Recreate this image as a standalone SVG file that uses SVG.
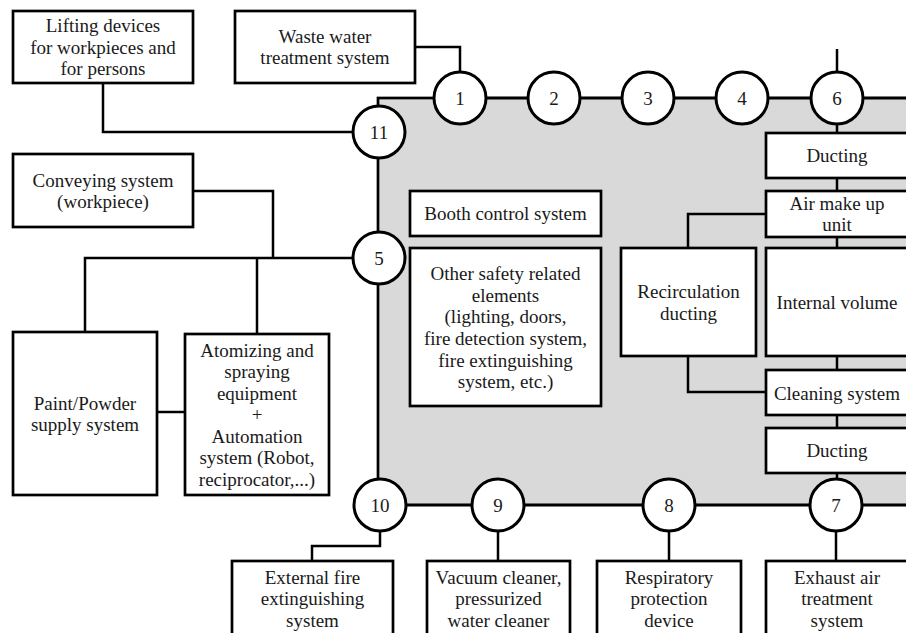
<svg xmlns="http://www.w3.org/2000/svg" width="906" height="633" viewBox="0 0 906 633">
<style>
.b{fill:#fff;stroke:#000;stroke-width:2.7}
.c{fill:#fff;stroke:#000;stroke-width:3}
.l{fill:none;stroke:#000;stroke-width:2.5}
text{font-family:"Liberation Serif","DejaVu Serif",serif;font-size:19px;fill:#1a1a1a;text-anchor:middle}
</style>
<rect x="0" y="0" width="906" height="633" fill="#fff"/>
<rect id="booth" x="378" y="98" width="540" height="407" fill="#d9d9d9" stroke="#000" stroke-width="2.7"/>
<g id="connectors" class="l">
<path class="l" d="M415,47H460V72"/>
<path class="l" d="M837,49V72"/>
<path class="l" d="M486,98H528M580,98H622M674,98H716M768,98H811M863,98H906"/>
<path class="l" d="M103,83V132H353"/>
<path class="l" d="M193,191H273V258"/>
<path class="l" d="M85,332V258H353"/>
<path class="l" d="M257,258V334"/>
<path class="l" d="M157,412H185"/>
<path class="l" d="M837,124V133M837,178V191M837,237V248M837,356V370M837,415V428M837,473V479"/>
<path class="l" d="M766,214H688V248"/>
<path class="l" d="M688,356V392H766"/>
<path class="l" d="M380,531V546H312V561"/>
<path class="l" d="M498,531V561M669,531V561M836,531V561"/>
<path class="l" d="M406,505H472M524,505H643M695,505H810M862,505H906"/>
</g>
<g id="n-lifting"><rect class="b" x="13" y="11" width="180" height="72"/><text x="103" y="32">Lifting devices</text><text x="103" y="53.5">for workpieces and</text><text x="103" y="75">for persons</text></g>
<g id="n-waste"><rect class="b" x="235" y="11" width="180" height="72"/><text x="325" y="42.5">Waste water</text><text x="325" y="64">treatment system</text></g>
<g id="n-conveying"><rect class="b" x="13" y="154" width="180" height="73"/><text x="103" y="186.5">Conveying system</text><text x="103" y="208">(workpiece)</text></g>
<g id="n-paint"><rect class="b" x="13" y="332" width="144" height="163"/><text x="85" y="409.5">Paint/Powder</text><text x="85" y="431">supply system</text></g>
<g id="n-atomizing"><rect class="b" x="185" y="334" width="144" height="161"/><text x="257" y="356.5">Atomizing and</text><text x="257" y="378">spraying</text><text x="257" y="399.5">equipment</text><text x="257" y="421">+</text><text x="257" y="442.5">Automation</text><text x="257" y="464">system (Robot,</text><text x="257" y="485.5">reciprocator,...)</text></g>
<g id="n-control"><rect class="b" x="410" y="191" width="191" height="45"/><text x="505.5" y="220">Booth control system</text></g>
<g id="n-safety"><rect class="b" x="410" y="248" width="191" height="158"/><text x="505.5" y="280">Other safety related</text><text x="505.5" y="301.7">elements</text><text x="505.5" y="323.3">(lighting, doors,</text><text x="505.5" y="345">fire detection system,</text><text x="505.5" y="366.7">fire extinguishing</text><text x="505.5" y="388.3">system, etc.)</text></g>
<g id="n-recirc"><rect class="b" x="621" y="248" width="135" height="108"/><text x="688.5" y="298">Recirculation</text><text x="688.5" y="319.5">ducting</text></g>
<g id="n-ducting1"><rect class="b" x="766" y="133" width="142" height="45"/><text x="837" y="162">Ducting</text></g>
<g id="n-air"><rect class="b" x="766" y="191" width="142" height="46"/><text x="837" y="209.5">Air make up</text><text x="837" y="231">unit</text></g>
<g id="n-internal"><rect class="b" x="766" y="248" width="142" height="108"/><text x="837" y="309">Internal volume</text></g>
<g id="n-cleaning"><rect class="b" x="766" y="370" width="142" height="45"/><text x="837" y="399.5">Cleaning system</text></g>
<g id="n-ducting2"><rect class="b" x="766" y="428" width="142" height="45"/><text x="837" y="457">Ducting</text></g>
<g id="n-ext"><rect class="b" x="232" y="561" width="161" height="80"/><text x="312.5" y="583.5">External fire</text><text x="312.5" y="605">extinguishing</text><text x="312.5" y="626.5">system</text></g>
<g id="n-vacuum"><rect class="b" x="427" y="561" width="143" height="80"/><text x="498.5" y="583.5">Vacuum cleaner,</text><text x="498.5" y="605">pressurized</text><text x="498.5" y="626.5">water cleaner</text></g>
<g id="n-resp"><rect class="b" x="597" y="561" width="144" height="80"/><text x="669" y="583.5">Respiratory</text><text x="669" y="605">protection</text><text x="669" y="626.5">device</text></g>
<g id="n-exhaust"><rect class="b" x="766" y="561" width="142" height="80"/><text x="837" y="583.5">Exhaust air</text><text x="837" y="605">treatment</text><text x="837" y="626.5">system</text></g>
<g id="c1"><circle class="c" cx="460" cy="98" r="26"/><text x="460" y="104.5">1</text></g>
<g id="c2"><circle class="c" cx="554" cy="98" r="26"/><text x="554" y="104.5">2</text></g>
<g id="c3"><circle class="c" cx="648" cy="98" r="26"/><text x="648" y="104.5">3</text></g>
<g id="c4"><circle class="c" cx="742" cy="98" r="26"/><text x="742" y="104.5">4</text></g>
<g id="c6"><circle class="c" cx="837" cy="98" r="26"/><text x="837" y="104.5">6</text></g>
<g id="c11"><circle class="c" cx="379" cy="132" r="26"/><text x="379" y="138.5">11</text></g>
<g id="c5"><circle class="c" cx="379" cy="258" r="26"/><text x="379" y="264.5">5</text></g>
<g id="c10"><circle class="c" cx="380" cy="505" r="26"/><text x="380" y="511.5">10</text></g>
<g id="c9"><circle class="c" cx="498" cy="505" r="26"/><text x="498" y="511.5">9</text></g>
<g id="c8"><circle class="c" cx="669" cy="505" r="26"/><text x="669" y="511.5">8</text></g>
<g id="c7"><circle class="c" cx="836" cy="505" r="26"/><text x="836" y="511.5">7</text></g>
</svg>
